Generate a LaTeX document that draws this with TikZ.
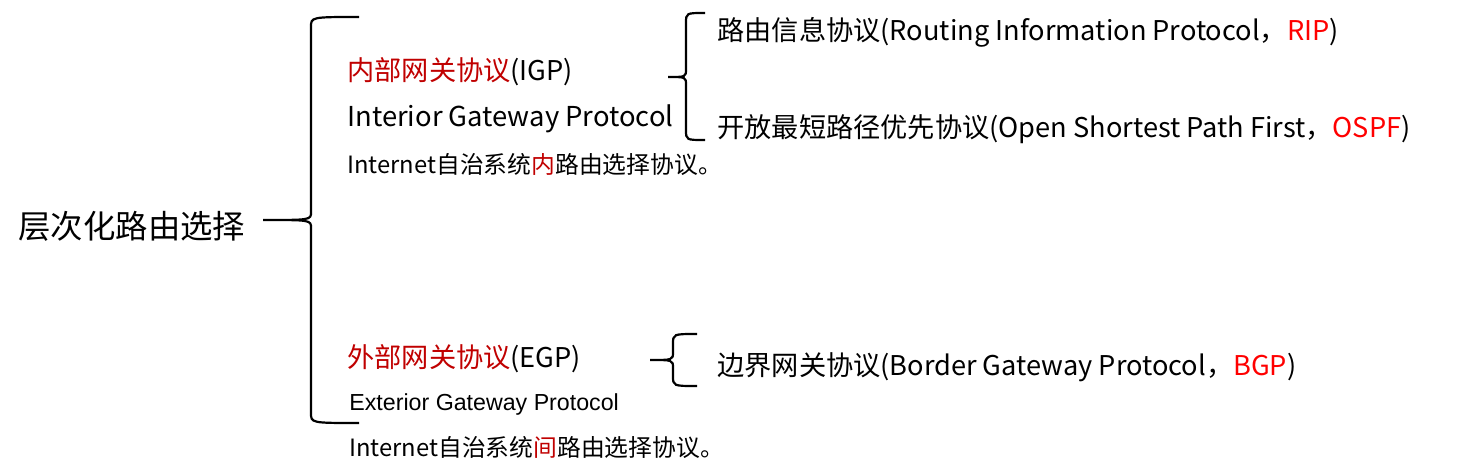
\documentclass[tikz,border=0pt]{standalone}
\usepackage{fontspec}
\setmainfont{Noto Sans CJK SC}
\newfontfamily\arialfont{Liberation Sans}
\definecolor{darkred}{HTML}{C00000}
\definecolor{brightred}{HTML}{FF0000}
% office style brace: end x, spine x, tip x, top y, tip y, bottom y
\newcommand{\obrace}[6]{
	\draw[line width=1.1pt] (#1,#4) .. controls (#2,#4) .. (#2,#4+10) -- (#2,#5-8)
		.. controls (#2,#5) .. (#3,#5) .. controls (#2,#5) .. (#2,#5+8)
		-- (#2,#6-10) .. controls (#2,#6) .. (#1,#6);
}
\begin{document}
\begin{tikzpicture}[x=0.5pt,y=-0.5pt]
		\useasboundingbox (0,0) rectangle (1466,476);
		\node at(18,226)[anchor=west,inner sep=0,font=\fontsize{16.2}{18}\selectfont] (root) {层次化路由选择};
		\obrace{359}{311}{263}{17}{220}{423}
		\coordinate (tipa) at (263,220);
		% interior
		\node at(347,72)[anchor=west,inner sep=0,font=\fontsize{13.6}{15}\selectfont] (igp) {\textcolor{darkred}{内部网关协议}(IGP)};
		\node at(347,119)[anchor=west,inner sep=0,font=\fontsize{13.7}{15}\selectfont] (igpen) {Interior Gateway Protocol};
		\node at(347,164)[anchor=west,inner sep=0,font=\fontsize{11.9}{13}\selectfont] (igpnote) {Internet自治系统\textcolor{darkred}{内}路由选择协议。};
		\obrace{705}{686}{668}{13}{77}{140}
		\node at(717,32)[anchor=west,inner sep=0,font=\fontsize{13.6}{15}\selectfont] (rip) {路由信息协议(Routing Information Protocol，\textcolor{brightred}{RIP})};
		\node at(717,129)[anchor=west,inner sep=0,font=\fontsize{13.6}{15}\selectfont] (ospf) {开放最短路径优先协议(Open Shortest Path First，\textcolor{brightred}{OSPF})};
		% exterior
		\node at(347,359)[anchor=west,inner sep=0,font=\fontsize{13.6}{15}\selectfont] (egp) {\textcolor{darkred}{外部网关协议}(EGP)};
		\node at(349,404)[anchor=west,inner sep=0,font=\arialfont\fontsize{11.6}{13}\selectfont] (egpen) {Exterior Gateway Protocol};
		\node at(349,447)[anchor=west,inner sep=0,font=\fontsize{11.9}{13}\selectfont] (egpnote) {Internet自治系统\textcolor{darkred}{间}路由选择协议。};
		\obrace{697}{673}{650}{334}{360}{386}
		\node at(717,367)[anchor=west,inner sep=0,font=\fontsize{13.6}{15}\selectfont] (bgp) {边界网关协议(Border Gateway Protocol，\textcolor{brightred}{BGP})};
	\end{tikzpicture}
\end{document}
